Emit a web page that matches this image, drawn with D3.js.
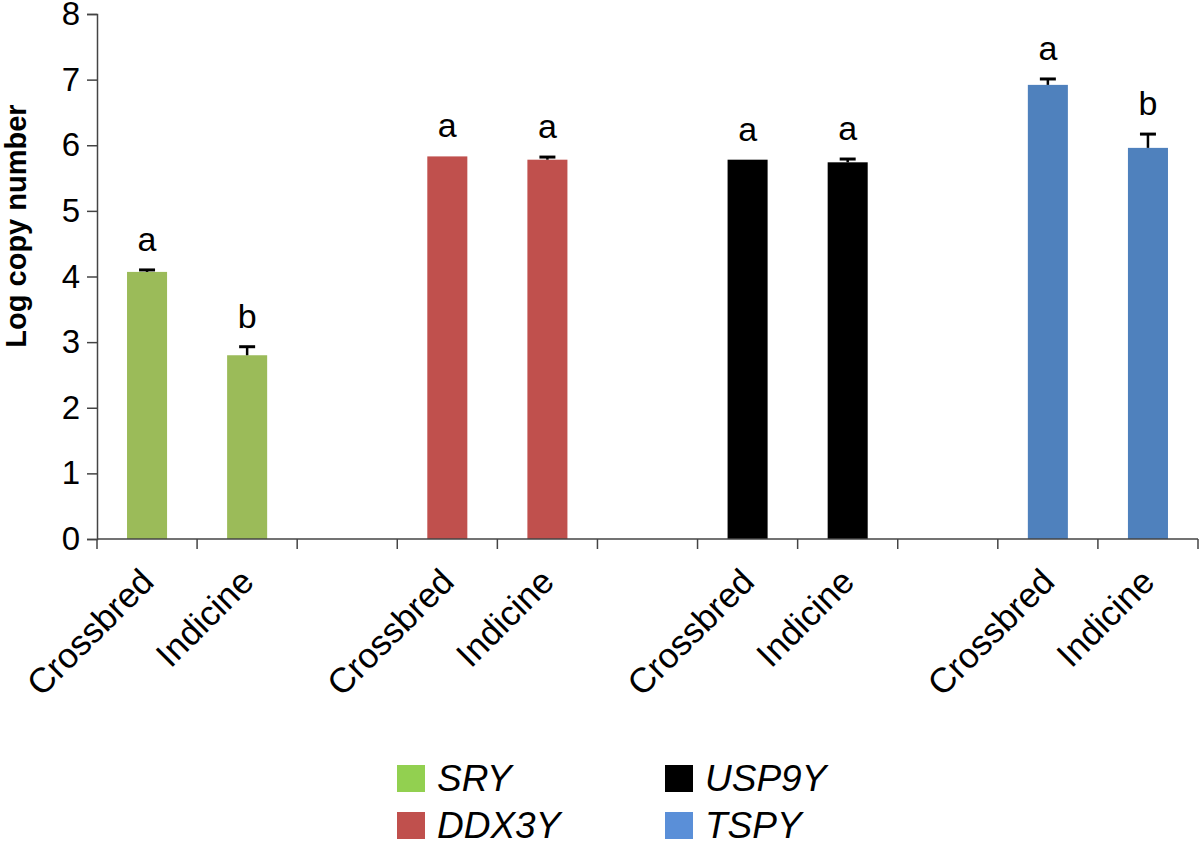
<!DOCTYPE html>
<html>
<head>
<meta charset="utf-8">
<script src="https://cdn.jsdelivr.net/npm/d3@7"></script>
<style>
  body { margin: 0; background: #fff; }
  text { font-family: 'Liberation Sans', Arial, Helvetica, sans-serif; }
</style>
</head>
<body>
<div id="chart"></div>
<script>
// data
var genes = ['SRY', 'DDX3Y', 'USP9Y', 'TSPY'];
var breeds = ['Crossbred', 'Indicine'];
var geneColors = ['#9bbb59', '#c0504d', '#000000', '#4f81bd'];
var legendColors = ['#92d050', '#c0504d', '#000000', '#5a8fd8'];
var crossbredMean = [4.07, 5.83, 5.78, 6.92];
var indicineMean = [2.80, 5.78, 5.74, 5.96];
var crossbredErr = [0.03, 0.0, 0.0, 0.09];
var indicineErr = [0.13, 0.04, 0.05, 0.21];
var crossbredSig = ['a', 'a', 'a', 'a'];
var indicineSig = ['b', 'a', 'a', 'b'];
var yTicks = [0, 1, 2, 3, 4, 5, 6, 7, 8];

// one slot per bar, an empty slot between genes
var slots = [];
var bars = [];
genes.forEach(function (g, i) {
    breeds.forEach(function (b, j) {
        var key = g + '-' + b;
        slots.push(key);
        bars.push({
            key: key,
            gene: i,
            breed: b,
            value: j === 0 ? crossbredMean[i] : indicineMean[i],
            err: j === 0 ? crossbredErr[i] : indicineErr[i],
            sig: j === 0 ? crossbredSig[i] : indicineSig[i]
        });
    });
    if (i < genes.length - 1) slots.push('gap-' + i);
});

// chart
var margin = { top: 14, right: 2, bottom: 306, left: 97 };
var W = 1200, H = 845;
var width = W - margin.left - margin.right;
var height = H - margin.top - margin.bottom;

var svg = d3.select('#chart')
    .append('svg')
    .attr('width', W)
    .attr('height', H);

var g = svg.append('g')
    .attr('transform', 'translate(' + margin.left + ',' + margin.top + ')');

var x = d3.scaleBand().domain(slots).range([0, width]).paddingInner(0).paddingOuter(0);
var y = d3.scaleLinear().domain([0, 8]).range([height, 0]);
var barW = x.bandwidth() * 0.4;

// bars
g.selectAll('.bar')
    .data(bars)
    .enter()
    .append('rect')
    .attr('class', 'bar')
    .attr('x', function (d) { return x(d.key) + (x.bandwidth() - barW) / 2; })
    .attr('width', barW)
    .attr('y', function (d) { return y(d.value); })
    .attr('height', function (d) { return height - y(d.value); })
    .attr('fill', function (d) { return geneColors[d.gene]; });

// error bars (upper only)
var eb = g.selectAll('.err')
    .data(bars.filter(function (d) { return d.err > 0; }))
    .enter()
    .append('g')
    .attr('class', 'err')
    .attr('stroke', '#000');
eb.append('line')
    .attr('x1', function (d) { return x(d.key) + x.bandwidth() / 2; })
    .attr('x2', function (d) { return x(d.key) + x.bandwidth() / 2; })
    .attr('y1', function (d) { return y(d.value); })
    .attr('y2', function (d) { return y(d.value + d.err); })
    .attr('stroke-width', 2.5);
eb.append('line')
    .attr('x1', function (d) { return x(d.key) + x.bandwidth() / 2 - 8; })
    .attr('x2', function (d) { return x(d.key) + x.bandwidth() / 2 + 8; })
    .attr('y1', function (d) { return y(d.value + d.err); })
    .attr('y2', function (d) { return y(d.value + d.err); })
    .attr('stroke-width', 3);

// significance letters
g.selectAll('.sig')
    .data(bars)
    .enter()
    .append('text')
    .attr('class', 'sig')
    .attr('x', function (d) { return x(d.key) + x.bandwidth() / 2; })
    .attr('y', function (d) { return y(d.value + d.err) - 19; })
    .attr('text-anchor', 'middle')
    .style('font-size', '34px')
    .text(function (d) { return d.sig; });

// axes
var y_axis = d3.axisLeft(y).tickValues(yTicks).tickSize(10).tickPadding(7).tickFormat(d3.format('d'));
var yg = g.append('g').attr('class', 'y axis').call(y_axis);
yg.select('.domain').attr('stroke', '#444').attr('stroke-width', 1.5);
yg.selectAll('.tick line').attr('stroke', '#444').attr('stroke-width', 1.5);
yg.selectAll('.tick text').style('font-size', '33px').attr('fill', '#000');

var xg = g.append('g').attr('class', 'x axis')
    .attr('transform', 'translate(0,' + height + ')');
xg.append('line')
    .attr('x1', 0).attr('x2', width)
    .attr('stroke', '#444').attr('stroke-width', 1.5);
xg.selectAll('.xtick')
    .data(d3.range(slots.length + 1))
    .enter()
    .append('line')
    .attr('x1', function (i) { return i * x.step(); })
    .attr('x2', function (i) { return i * x.step(); })
    .attr('y1', 0).attr('y2', 10)
    .attr('stroke', '#444').attr('stroke-width', 1.5);

// rotated category labels
xg.selectAll('.xlabel')
    .data(bars)
    .enter()
    .append('text')
    .attr('class', 'xlabel')
    .attr('transform', function (d) {
        return 'translate(' + (x(d.key) + x.bandwidth() / 2) + ',36) rotate(-45)';
    })
    .attr('text-anchor', 'end')
    .attr('dy', '0.35em')
    .style('font-size', '35px')
    .text(function (d) { return d.breed; });

// text label for the y axis
svg.append('text')
    .attr('transform', 'translate(26,226) rotate(-90)')
    .attr('text-anchor', 'middle')
    .style('font-size', '29px')
    .style('font-weight', 'bold')
    .text('Log copy number');

// legend
var legend = svg.append('g').attr('class', 'legend');
var items = legend.selectAll('.item')
    .data(genes)
    .enter()
    .append('g')
    .attr('class', 'item')
    .attr('transform', function (d, i) {
        return 'translate(' + (397 + Math.floor(i / 2) * 268) + ',' + (765 + (i % 2) * 47) + ')';
    });
items.append('rect')
    .attr('width', 28)
    .attr('height', 27)
    .attr('fill', function (d, i) { return legendColors[i]; });
items.append('text')
    .attr('x', 40)
    .attr('y', 26)
    .style('font-size', '37px')
    .style('font-style', 'italic')
    .text(function (d) { return d; });
</script>
</body>
</html>
